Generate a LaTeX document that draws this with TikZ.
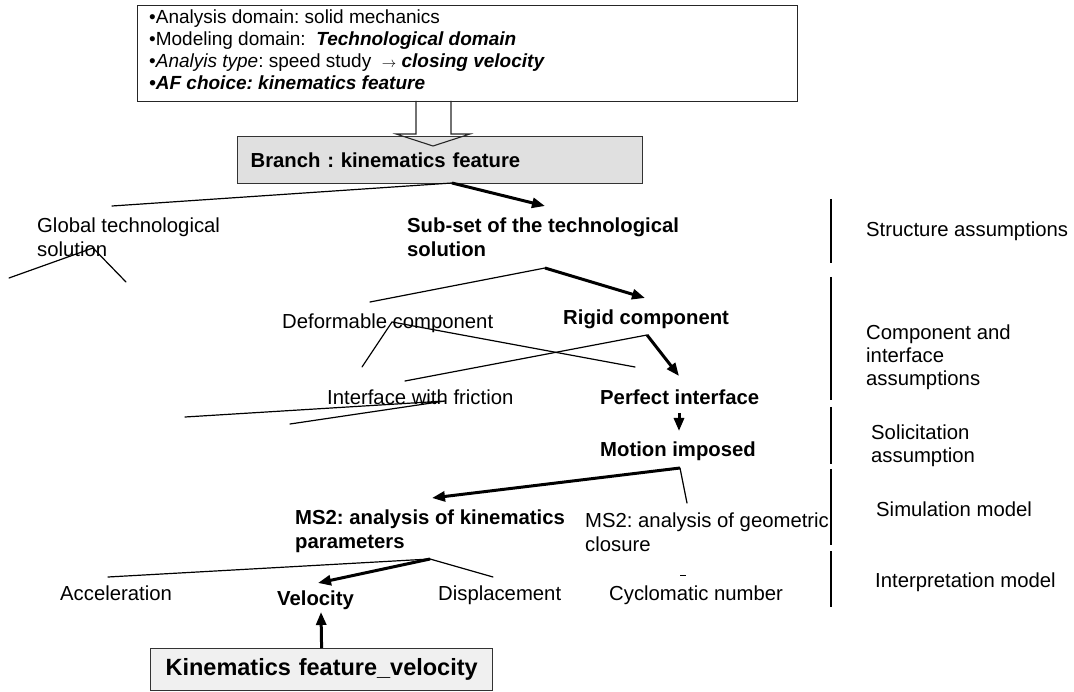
\documentclass[tikz,border=0pt]{standalone}
\usepackage{fontspec}
\setmainfont{Liberation Sans}
\usetikzlibrary{arrows.meta}
\frenchspacing
\begin{document}
\begin{tikzpicture}[x=1pt,y=-1pt,
  twig/.style={line width=1.2pt, line cap=round},
  pick/.style={line width=3pt, -{Triangle[length=13pt,width=10pt]}},
  lbl/.style={anchor=north west, inner sep=0pt, align=left, font=\fontsize{20.3}{24}\selectfont},
  blbl/.style={lbl, font=\fontsize{20.3}{24}\selectfont\bfseries},
  side/.style={lbl, font=\fontsize{20.3}{23}\selectfont},
  divider/.style={line width=1.2pt},
  featbox/.style={draw=black!80, line width=1.2pt, anchor=north west, align=left, inner ysep=0pt}
]
\useasboundingbox (0,0) rectangle (1074,692);

% context box with the analysis choices
\node[draw=black!85, line width=1.2pt, anchor=north west, minimum width=660pt,
      minimum height=96pt, inner sep=0pt] (ctx) at (137,5) {};
\node[anchor=north west, inner sep=0pt, align=left, font=\fontsize{19}{22}\selectfont]
  (ctxtxt) at (149,10) {%
  •Analysis domain: solid mechanics\\
  •Modeling domain:\ \ \textbf{\textit{Technological domain}}\\
  •\textit{Analyis type}: speed study\ \ {\fontsize{14}{14}\selectfont$\rightarrow$} \textbf{\textit{closing velocity}}\\
  \textbf{\textit{•AF choice: kinematics feature}}};

% selected branch
\node[featbox, fill=black!12, minimum width=405pt, minimum height=47pt, text width=379pt,
      inner xsep=13pt, font=\fontsize{20.3}{24}\selectfont\bfseries] (branch) at (237,136)
      {Branch : kinematics feature};

% hollow block arrow from the context box to the branch
\coordinate (hollow) at (433,101);
\draw[line width=1.1pt, black!85] (hollow) ++(-17,0) -- ++(0,33) -- ++(-20,0) -- ++(37,12)
  -- ++(37,-12) -- ++(-19,0) -- ++(0,-33);

% tree labels
\node[lbl] (glob) at (37,217.5) {Global technological\\solution};
\node[blbl] (subset) at (407,217.5) {Sub-set of the technological\\solution};
\node[lbl] (deform) at (282,313.5) {Deformable component};
\node[blbl] (rigid) at (563,309.5) {Rigid component};
\node[lbl] (friction) at (327,389.5) {Interface with friction};
\node[blbl] (perfect) at (600,389.5) {Perfect interface};
\node[blbl] (motion) at (600,441.5) {Motion imposed};
\node[blbl] (mskin) at (295,509.5) {MS2: analysis of kinematics\\parameters};
\node[lbl] (msgeo) at (585,512.5) {MS2: analysis of geometric\\closure};
\node[lbl] (accel) at (60,585.5) {Acceleration};
\node[blbl] (veloc) at (277,590.5) {Velocity};
\node[lbl] (displ) at (438,585.5) {Displacement};
\node[lbl] (cyclo) at (609,585.5) {Cyclomatic number};

% final feature
\node[featbox, fill=black!6, minimum width=342pt, minimum height=42pt, text width=322pt,
      inner xsep=10pt, font=\fontsize{23.5}{28}\selectfont\bfseries] (kfv) at (150,648)
      {\hspace*{5pt}Kinematics feature\_velocity};

% level names
\node[side] (lstruct) at (866,221.5) {Structure assumptions};
\node[side] (lcomp) at (866,324.5) {Component and\\interface\\assumptions};
\node[side] (lsolic) at (871,424.5) {Solicitation\\assumption};
\node[side] (lsim) at (876,501.5) {Simulation model};
\node[side] (linterp) at (875,572.5) {Interpretation model};

% level separators
\foreach \ya/\yb [count=\i] in {199/263, 277/400, 407/464, 469/545, 551/607} {
  \coordinate (sep\i a) at (831,\ya);
  \coordinate (sep\i b) at (831,\yb);
  \draw[divider] (sep\i a) -- (sep\i b);
}

% branching points and branch ends
\coordinate (b0) at (452,183);  \coordinate (bL) at (112,206);  \coordinate (bR) at (545,206);
\coordinate (g0) at (93,248);   \coordinate (gL) at (9,278);    \coordinate (gR) at (126,282);
\coordinate (s0) at (545,268);  \coordinate (sL) at (370,302);  \coordinate (sR) at (645,298);
\coordinate (d0) at (392,322);  \coordinate (dL) at (362,367);  \coordinate (dR) at (635,367);
\coordinate (r0) at (647,335);  \coordinate (rL) at (405,381);  \coordinate (rR) at (679,376);
\coordinate (i0) at (445,401);  \coordinate (iL) at (185,417);  \coordinate (iR) at (290,424);
\coordinate (p0) at (679,413);  \coordinate (pE) at (679,431);
\coordinate (m0) at (680,468);  \coordinate (mL) at (432,498);  \coordinate (mR) at (687,503);
\coordinate (k0) at (430,559);  \coordinate (kL) at (108,577);  \coordinate (kM) at (318,583);
\coordinate (kR) at (493,577);
\coordinate (vtip) at (321,612);

\draw[twig] (b0) -- (bL);  \draw[pick] (b0) -- (bR);
\draw[twig] (gL) -- (g0) -- (gR);
\draw[twig] (s0) -- (sL);  \draw[pick] (s0) -- (sR);
\draw[twig] (dL) -- (d0) -- (dR);
\draw[twig] (r0) -- (rL);  \draw[pick] (r0) -- (rR);
\draw[twig] (iL) -- (i0) -- (iR);
\draw[pick] (p0) -- (pE);
\draw[pick] (m0) -- (mL);  \draw[twig] (m0) -- (mR);
\draw[twig] (k0) -- (kL);  \draw[twig] (k0) -- (kR);  \draw[pick] (k0) -- (kM);
\draw[pick] (kfv.north) -- (vtip);

% small stroke above the cyclomatic number
\coordinate (tickA) at (680,575); \coordinate (tickB) at (686,575);
\draw[line width=1pt] (tickA) -- (tickB);
\end{tikzpicture}
\end{document}
